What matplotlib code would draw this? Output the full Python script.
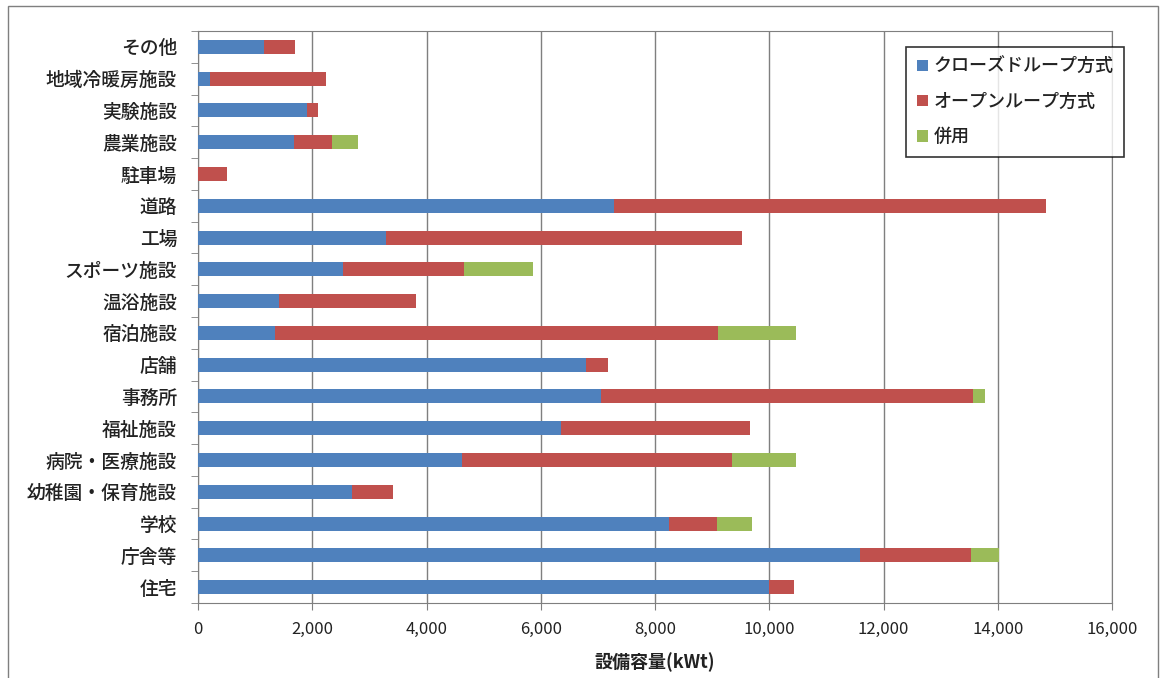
"""Stacked horizontal bar chart of geothermal heat-pump capacity by facility type."""

import matplotlib.pyplot as plt
import numpy as np
from matplotlib.patches import Rectangle

plt.rcParams["font.family"] = ["Noto Sans CJK JP", "DejaVu Sans"]

categories = [
    "住宅", "庁舎等", "学校", "幼稚園・保育施設", "病院・医療施設", "福祉施設",
    "事務所", "店舗", "宿泊施設", "温浴施設", "スポーツ施設", "工場", "道路",
    "駐車場", "農業施設", "実験施設", "地域冷暖房施設", "その他",
]
closed_loop = [10000, 11585, 8245, 2700, 4630, 6350, 7050, 6790, 1350, 1420,
               2540, 3290, 7290, 0, 1680, 1910, 210, 1150]
open_loop = [440, 1955, 835, 720, 4725, 3305, 6510, 385, 7750, 2395,
             2115, 6230, 7560, 500, 665, 190, 2030, 550]
combined = [0, 490, 615, 0, 1110, 0, 210, 0, 1375, 0,
            1210, 0, 0, 0, 455, 0, 0, 0]
series_names = ["クローズドループ方式", "オープンループ方式", "併用"]
colors = ["#4F81BD", "#C0504D", "#9BBB59"]

fig = plt.figure(figsize=(11.62, 6.78), dpi=100)
ax = fig.add_axes([198 / 1162, 1 - 603 / 678, (1112 - 198) / 1162, (603 - 31) / 678])

y = np.arange(len(categories))
left = np.zeros(len(categories))
for vals, name, c in zip([closed_loop, open_loop, combined], series_names, colors):
    ax.barh(y, vals, left=left, height=0.44, color=c, label=name, zorder=3)
    left += np.array(vals)

ax.set_ylim(-0.5, len(categories) - 0.5)
ax.set_xlim(0, 16000)
ax.set_xticks(np.arange(0, 16001, 2000))
ax.set_xticklabels([f"{v:,}" for v in range(0, 16001, 2000)])
ax.set_yticks(y)
ax.set_yticklabels(categories, fontsize=13.5, fontweight="medium", color="#222222")
ax.set_yticks(np.arange(-0.5, len(categories), 1), minor=True)
ax.tick_params(axis="y", which="major", length=0, pad=15)
ax.tick_params(axis="y", which="minor", length=5, color="#7f7f7f")
ax.tick_params(axis="x", length=5, color="#7f7f7f", labelsize=12, pad=8,
               labelcolor="#222222")
ax.grid(axis="x", color="#7f7f7f", linewidth=1.0, zorder=0)
for side in ["top", "right", "left", "bottom"]:
    ax.spines[side].set_color("#7f7f7f")
ax.set_xlabel("設備容量(kWt)", fontsize=13, fontweight="bold", labelpad=10,
              color="#222222")

leg = ax.legend(loc="upper right", bbox_to_anchor=(1.0135, 0.972), fontsize=13,
                frameon=True, fancybox=False, edgecolor="black",
                handlelength=0.6, handleheight=0.6, handletextpad=0.3,
                labelspacing=0.95, borderpad=0.6, borderaxespad=0)
leg.get_frame().set_linewidth(1.2)
for t in leg.get_texts():
    t.set_fontweight("medium")
    t.set_color("#222222")

fig.patches.append(Rectangle((8 / 1162, -0.01), 1150 / 1162, 1.01 - 6 / 678,
                             transform=fig.transFigure, fill=False,
                             edgecolor="#7f7f7f", linewidth=1.0))

fig.savefig("out.png", dpi=100)
